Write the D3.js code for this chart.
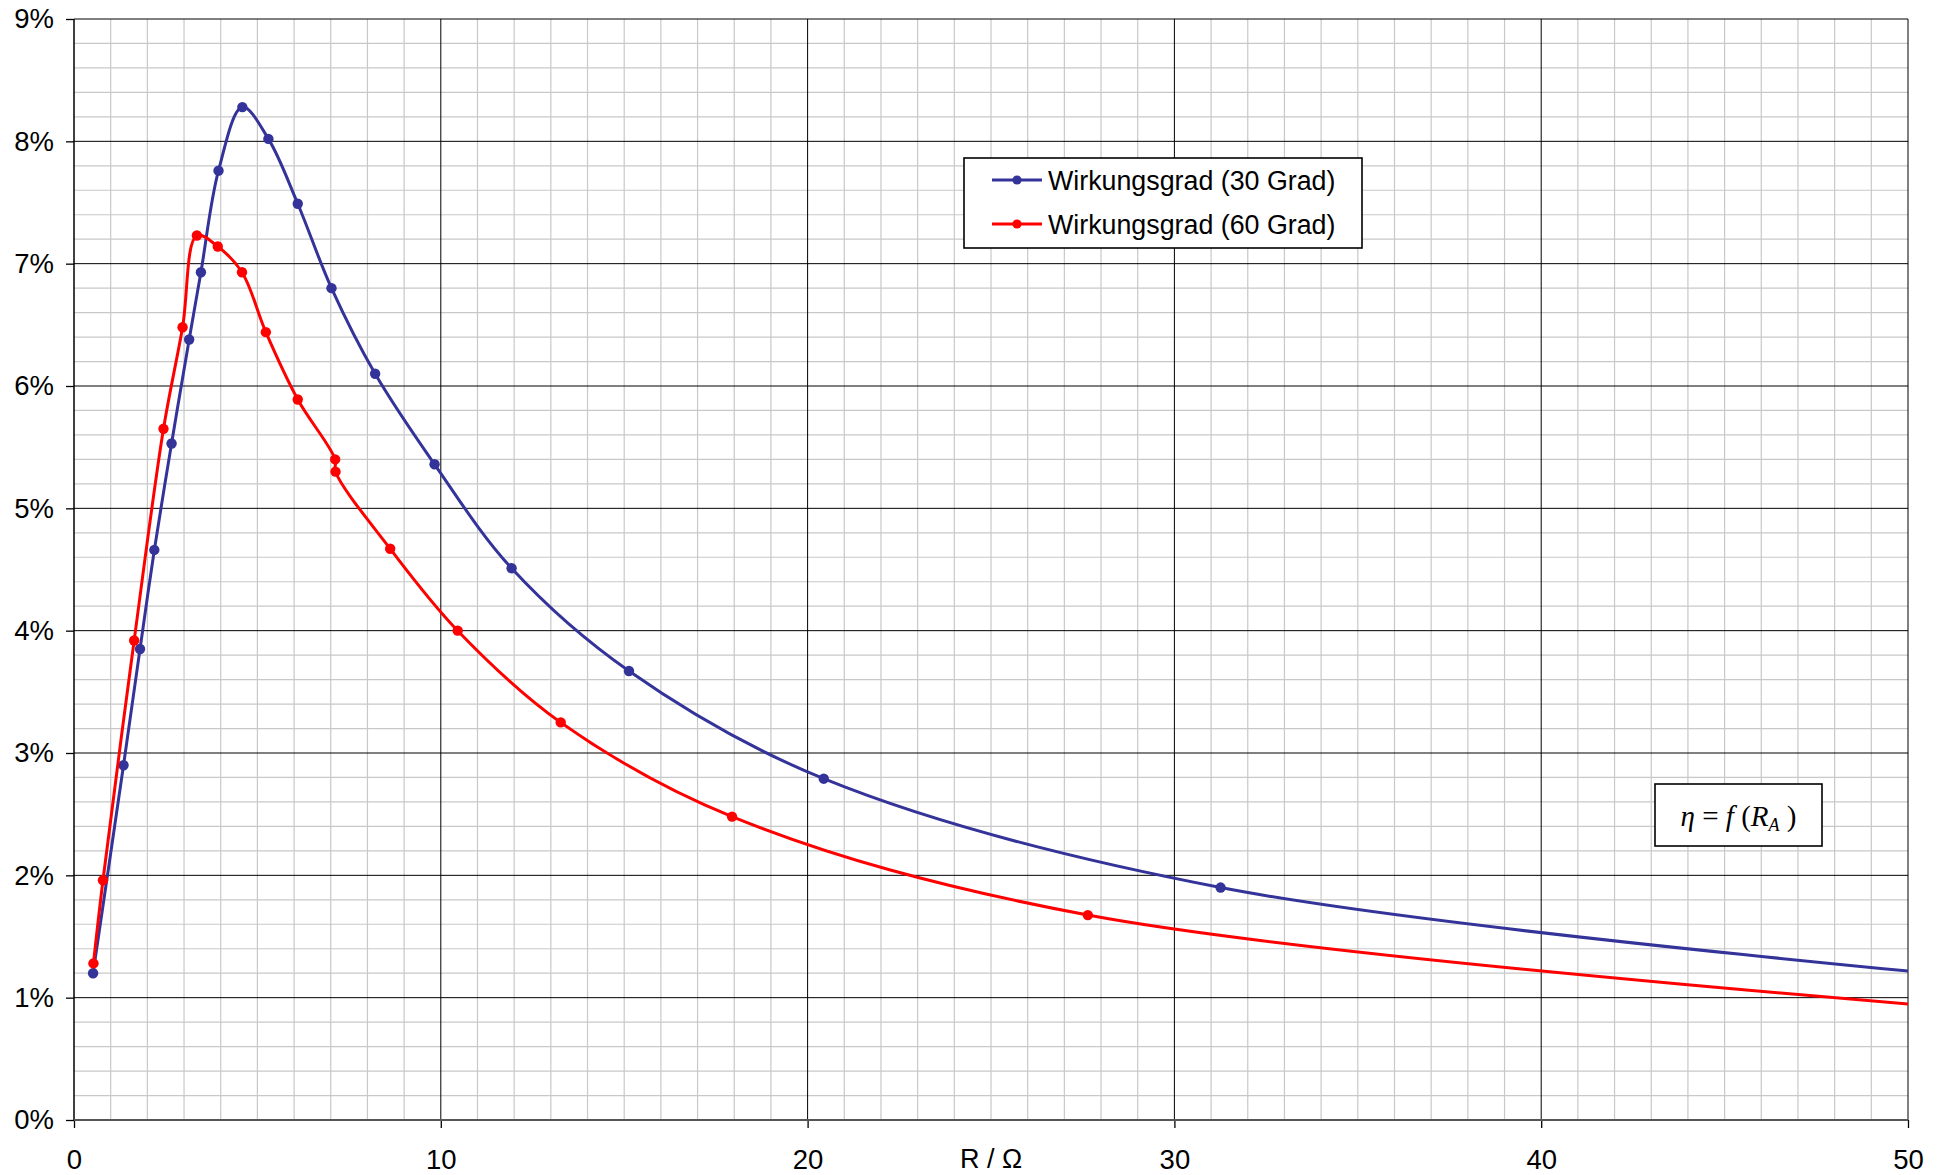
<!DOCTYPE html>
<html>
<head>
<meta charset="utf-8"/>
<title>Wirkungsgrad</title>
<style>
body { margin: 0; background: #fff; }
text { font-family: "Liberation Sans", Arial, sans-serif; fill: #000; }
.grid--minor line { stroke: #c8c8c8; stroke-width: 1.2; }
.grid--major line { stroke: #000; stroke-width: 1; }
.axis path { display: none; }
.axis line { stroke: #000; stroke-width: 1.3; }
.axis text { font-size: 27.5px; }
.series { fill: none; stroke-width: 3; stroke-linejoin: round; stroke-linecap: round; }
.legend rect, .formula rect { fill: #fff; stroke: #000; stroke-width: 1.6; }
.legend text { font-size: 26.8px; }
.formula text { font-family: "Liberation Serif", "Times New Roman", serif; font-size: 29px; }
</style>
</head>
<body>
<svg width="1945" height="1175"></svg>
<script src="https://d3js.org/d3.v7.min.js"></script>
<script>

// R in Ohm and efficiency in % (last point of each lies past the axis end)
var r30   = [0.52, 1.35, 1.80, 2.19, 2.66, 3.14, 3.46, 3.94, 4.59, 5.30, 6.10, 7.02, 8.21, 9.83, 11.93, 15.13, 20.44, 31.26, 55];
var eta30 = [1.20, 2.90, 3.85, 4.66, 5.53, 6.38, 6.93, 7.76, 8.28, 8.02, 7.49, 6.80, 6.10, 5.36, 4.51, 3.67, 2.79, 1.90, 1.08];

var r60   = [0.53, 0.79, 1.64, 2.44, 2.96, 3.35, 3.92, 4.58, 5.23, 6.10, 7.12, 7.13, 8.62, 10.46, 13.27, 17.94, 27.64, 55];
var eta60 = [1.28, 1.96, 3.92, 5.65, 6.48, 7.23, 7.14, 6.93, 6.44, 5.89, 5.40, 5.30, 4.67, 4.00, 3.25, 2.48, 1.675, 0.83];

var seriesNames  = ["Wirkungsgrad (30 Grad)", "Wirkungsgrad (60 Grad)"];
var seriesColors = ["#333399", "#ff0000"];

var xTicks = [0, 10, 20, 30, 40, 50];
var yTicks = [0, 1, 2, 3, 4, 5, 6, 7, 8, 9];
var xTitle = "R / \u03a9";

var svg = d3.select("svg"),
    margin = {top: 19, right: 37, bottom: 55, left: 74},
    width = svg.attr("width") - margin.left - margin.right,
    height = svg.attr("height") - margin.top - margin.bottom,
    g = svg.append("g").attr("transform", "translate(" + margin.left + "," + margin.top + ")");

var x = d3.scaleLinear().domain([0, 50]).range([0, width]);
var y = d3.scaleLinear().domain([0, 9]).range([height, 0]);

// minor grid: every 1 Ohm and every 0.2 %
var minor = g.append("g").attr("class", "grid--minor");
minor.selectAll(".vx")
    .data(d3.range(1, 50).filter(function(d) { return d % 10 !== 0; }))
  .enter().append("line")
    .attr("x1", function(d) { return x(d); }).attr("x2", function(d) { return x(d); })
    .attr("y1", 0).attr("y2", height);
minor.selectAll(".hy")
    .data(d3.range(1, 45).filter(function(d) { return d % 5 !== 0; }).map(function(d) { return d / 5; }))
  .enter().append("line")
    .attr("x1", 0).attr("x2", width)
    .attr("y1", function(d) { return y(d); }).attr("y2", function(d) { return y(d); });

// major grid
var major = g.append("g").attr("class", "grid--major");
major.selectAll(".vx").data(xTicks.slice(1))
  .enter().append("line")
    .attr("x1", function(d) { return x(d); }).attr("x2", function(d) { return x(d); })
    .attr("y1", 0).attr("y2", height);
major.selectAll(".hy").data(yTicks.slice(1))
  .enter().append("line")
    .attr("x1", 0).attr("x2", width)
    .attr("y1", function(d) { return y(d); }).attr("y2", function(d) { return y(d); });

// axes
g.append("g")
    .attr("class", "axis axis--x")
    .attr("transform", "translate(0," + height + ")")
    .call(d3.axisBottom(x).tickValues(xTicks).tickSizeInner(8).tickSizeOuter(0).tickPadding(21));
g.append("g")
    .attr("class", "axis axis--y")
    .call(d3.axisLeft(y).tickValues(yTicks).tickSizeInner(8).tickSizeOuter(0).tickPadding(12)
      .tickFormat(function(d) { return d + "%"; }));

g.append("line").attr("x1", 0).attr("x2", 0).attr("y1", 0).attr("y2", height)
    .attr("stroke", "#000").attr("stroke-width", 1.5);
g.append("line").attr("x1", 0).attr("x2", width).attr("y1", height).attr("y2", height)
    .attr("stroke", "#555").attr("stroke-width", 2);

// axis title sits on the tick-label row, at R = 25
g.append("text")
    .attr("x", x(25))
    .attr("y", height + 48)
    .attr("text-anchor", "middle")
    .style("font-size", "27px")
    .text(xTitle);

// series, clipped to the plot area like the spreadsheet does
svg.append("defs").append("clipPath").attr("id", "plot")
  .append("rect").attr("width", width).attr("height", height);

var data = [
  r30.map(function(r, i) { return [r, eta30[i]]; }),
  r60.map(function(r, i) { return [r, eta60[i]]; })
];

var line = d3.line()
    .curve(d3.curveCatmullRom.alpha(0.5))
    .x(function(d) { return x(d[0]); })
    .y(function(d) { return y(d[1]); });

var plot = g.append("g").attr("clip-path", "url(#plot)");

data.forEach(function(s, i) {
  plot.append("path")
      .attr("class", "series")
      .attr("stroke", seriesColors[i])
      .attr("d", line(s));
  plot.selectAll(".m" + i).data(s)
    .enter().append("circle")
      .attr("cx", function(d) { return x(d[0]); })
      .attr("cy", function(d) { return y(d[1]); })
      .attr("r", 5.2)
      .attr("fill", seriesColors[i]);
});

// legend
var legend = svg.append("g").attr("class", "legend").attr("transform", "translate(964,158)");
legend.append("rect").attr("width", 398).attr("height", 90);
seriesNames.forEach(function(name, i) {
  var row = legend.append("g").attr("transform", "translate(0," + (22 + i * 44) + ")");
  row.append("line").attr("x1", 28).attr("x2", 78)
      .attr("stroke", seriesColors[i]).attr("stroke-width", 2.8);
  row.append("circle").attr("cx", 53).attr("r", 4.6).attr("fill", seriesColors[i]);
  row.append("text").attr("x", 84).attr("dy", "0.36em").text(name);
});

// formula box
var formula = svg.append("g").attr("class", "formula").attr("transform", "translate(1655,784)");
formula.append("rect").attr("width", 167).attr("height", 62);
var ft = formula.append("text").attr("x", 83.5).attr("y", 42).attr("text-anchor", "middle");
ft.append("tspan").style("font-style", "italic").text("\u03b7");
ft.append("tspan").text(" = ");
ft.append("tspan").style("font-style", "italic").text("f");
ft.append("tspan").text(" (");
ft.append("tspan").style("font-style", "italic").text("R");
ft.append("tspan").style("font-style", "italic").style("font-size", "18px").attr("dy", 5).text("A");
ft.append("tspan").attr("dy", -5).text(" )");

</script>
</body>
</html>
